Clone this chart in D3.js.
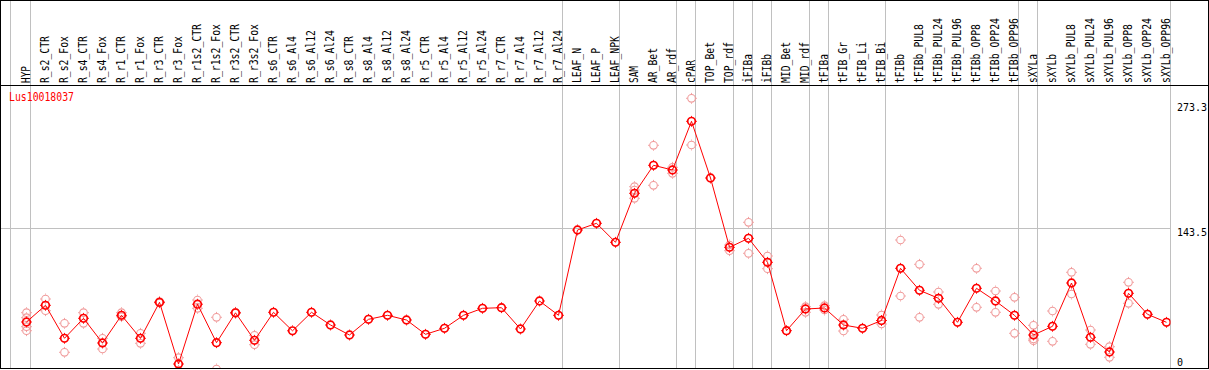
<!DOCTYPE html>
<html lang="en">
<head>
<meta charset="utf-8">
<title>Lus10018037</title>
<script src="https://d3js.org/d3.v7.min.js"></script>
<style>
  body { margin: 0; background: #fff; }
  svg { display: block; }
  text { font-family: "DejaVu Sans Mono", monospace; font-size: 12px; }
  .tick-label { font-size: 10px; }
</style>
</head>
<body>
<svg id="chart"></svg>
<script>
// sample groups (a grey separator is drawn after each group)
const groups = [
  ["HYP"],
  ["R_s2_CTR", "R_s2_Fox", "R_s4_CTR", "R_s4_Fox", "R_r1_CTR", "R_r1_Fox", "R_r3_CTR", "R_r3_Fox",
   "R_r1s2_CTR", "R_r1s2_Fox", "R_r3s2_CTR", "R_r3s2_Fox", "R_s6_CTR", "R_s6_Al4", "R_s6_Al12", "R_s6_Al24",
   "R_s8_CTR", "R_s8_Al4", "R_s8_Al12", "R_s8_Al24", "R_r5_CTR", "R_r5_Al4", "R_r5_Al12", "R_r5_Al24",
   "R_r7_CTR", "R_r7_Al4", "R_r7_Al12", "R_r7_Al24"],
  ["LEAF_N", "LEAF_P", "LEAF_NPK"],
  ["SAM", "AR_Bet", "AR_rdf"],
  ["cPAR"],
  ["TOP_Bet", "TOP_rdf"],
  ["iFIBa"],
  ["iFIBb"],
  ["MID_Bet", "MID_rdf"],
  ["tFIBa"],
  ["tFIB_Gr", "tFIB_Li", "tFIB_Bi"],
  ["tFIBb", "tFIBb_PUL8", "tFIBb_PUL24", "tFIBb_PUL96", "tFIBb_OPP8", "tFIBb_OPP24", "tFIBb_OPP96"],
  ["sXYLa"],
  ["sXYLb", "sXYLb_PUL8", "sXYLb_PUL24", "sXYLb_PUL96", "sXYLb_OPP8", "sXYLb_OPP24", "sXYLb_OPP96"]
];
const categories = groups.flat();

// mean expression per sample
const meanValues = [
  49.5, 66.2, 33.2, 53.2, 28.5, 56.2, 33.2, 69.2, 7.5, 67.3,
  28.8, 58.7, 31.2, 59.2, 40.7, 59.2, 46.5, 36.5, 52.2, 56.2,
  51.5, 37.2, 43.2, 56.2, 63.2, 63.8, 42.5, 70.5, 56.2, 141.5,
  148.2, 129.2, 178.2, 206.2, 201.5, 250.2, 193.5, 124.2, 133.2, 109.2,
  40.8, 62.5, 63.5, 46.5, 43.2, 51.0, 103.2, 81.2, 73.2, 49.2,
  83.2, 70.5, 56.2, 36.5, 45.2, 88.5, 34.2, 19.5, 78.2, 57.2,
  49.2
];

// individual replicates per sample
const replicates = [
  [58.8, 53.8, 44.8, 40.8], [72.5, 60.8], [48.2, 19.2], [58.8, 48.2], [33.2, 22.5],
  [58.8, 54.8], [38.2, 28.2], [69.8, 68.6], [13.8, 1.2], [71.5, 63.2],
  [54.2, 2.5], [59.2, 58.2], [36.2, 26.8], [], [],
  [], [], [], [], [],
  [], [], [], [], [],
  [], [], [], [], [],
  [], [], [184.8, 181.5, 173.2], [226.2, 186.2], [204.2, 198.2],
  [273.2, 226.5], [], [126.5, 120.8], [149.2, 118.2], [115.5, 102.8],
  [], [64.8, 59.2], [65.8, 61.5], [52.2, 40.5], [],
  [56.5, 47.5], [131.5, 75.5], [107.2, 54.2], [79.5, 67.2], [],
  [103.2, 64.2], [80.5, 59.2], [74.2, 38.2], [46.2, 32.5, 30.8], [60.5, 30.2],
  [99.2, 77.5], [41.5, 27.2], [24.8, 14.2], [89.2, 68.2], [],
  []
];

const geneName = "Lus10018037";
const tickValues = [0, 143.5, 273.3];

// layout
const width = 1209, height = 370;
const headerBottom = 85.5, plotBottom = 368.5, plotRight = 1170.5;

const svg = d3.select("#chart").attr("width", width).attr("height", height);

const x = d3.scaleBand().domain(categories).range([11.5, plotRight]).padding(0);
const px = d => x(d) + 15;
const y = d3.scaleLinear().domain([0, 273.3]).range([371.5, 98.2]);

svg.append("rect").attr("width", width).attr("height", height).attr("fill", "#fff");

svg.append("defs").append("clipPath").attr("id", "plotClip")
  .append("rect").attr("x", 0).attr("y", headerBottom).attr("width", plotRight).attr("height", plotBottom - headerBottom);

// grid: horizontal line at the middle tick
svg.append("g").selectAll("line")
  .data(tickValues.filter(v => v > 0 && v < 273.3))
  .join("line")
  .attr("x1", 0).attr("x2", plotRight)
  .attr("y1", d => Math.round(y(d)) + 0.5).attr("y2", d => Math.round(y(d)) + 0.5)
  .attr("stroke", "#c0c0c0");

// grid: group separators
const sepX = [10.5].concat(groups.map(g => x(g[g.length - 1]) + x.bandwidth()));
svg.append("g").selectAll("line")
  .data(sepX)
  .join("line")
  .attr("x1", d => d).attr("x2", d => d)
  .attr("y1", 0).attr("y2", plotBottom)
  .attr("stroke", "#c0c0c0");

// header labels, rotated
svg.append("g").selectAll("text")
  .data(categories)
  .join("text")
  .attr("transform", d => `translate(${px(d) + 3.5},83) rotate(-90)`)
  .attr("textLength", d => d.length * 6 - 1)
  .attr("lengthAdjust", "spacingAndGlyphs")
  .attr("fill", "#000")
  .text(d => d);

// y tick labels on the right
svg.append("g").selectAll("text")
  .data(tickValues)
  .join("text")
  .attr("class", "tick-label")
  .attr("x", 1177)
  .attr("y", d => Math.max(111, Math.min(366, y(d) + 8)))
  .attr("fill", "#000")
  .text(d => d);

// gene name
svg.append("text")
  .attr("x", 9).attr("y", 100.5)
  .attr("textLength", geneName.length * 6 - 1)
  .attr("lengthAdjust", "spacingAndGlyphs")
  .attr("fill", "#ff0000")
  .text(geneName);

const plot = svg.append("g").attr("clip-path", "url(#plotClip)");

// marker: ring with tiny ticks
function marker(g, color, sw) {
  g.append("circle").attr("r", 3.8).attr("fill", "none").attr("stroke", color).attr("stroke-width", sw);
  [[0, -1], [0, 1], [-1, 0], [1, 0]].forEach(([dx, dy]) => {
    g.append("line")
      .attr("x1", dx * 4.4).attr("y1", dy * 4.4).attr("x2", dx * 5.4).attr("y2", dy * 5.4)
      .attr("stroke", color).attr("stroke-width", 1);
  });
}

// replicates
const repPoints = categories.flatMap((c, i) => replicates[i].map(v => ({ c, v })));
plot.append("g").selectAll("g")
  .data(repPoints)
  .join("g")
  .attr("transform", d => `translate(${px(d.c)},${y(d.v)})`)
  .each(function () { marker(d3.select(this), "#f09a9a", 1.1); });

// mean line
const meanData = categories.map((c, i) => ({ c, v: meanValues[i] }));
plot.append("path")
  .datum(meanData)
  .attr("fill", "none")
  .attr("stroke", "#ff0000")
  .attr("stroke-width", 1)
  .attr("d", d3.line().x(d => px(d.c)).y(d => y(d.v)));

plot.append("g").selectAll("g")
  .data(meanData)
  .join("g")
  .attr("transform", d => `translate(${px(d.c)},${y(d.v)})`)
  .each(function () { marker(d3.select(this), "#ff0000", 1.7); });

// frame
svg.append("rect")
  .attr("x", 0.5).attr("y", 0.5).attr("width", 1208).attr("height", plotBottom - 0.5)
  .attr("fill", "none").attr("stroke", "#000");
svg.append("line")
  .attr("x1", 0).attr("x2", width).attr("y1", headerBottom).attr("y2", headerBottom)
  .attr("stroke", "#000");
</script>
</body>
</html>
